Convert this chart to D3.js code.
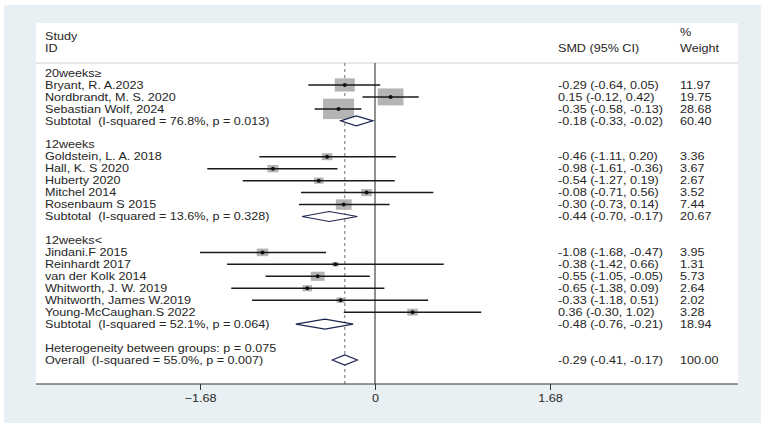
<!DOCTYPE html>
<html>
<head>
<meta charset="utf-8">
<script src="https://cdn.jsdelivr.net/npm/d3@7"></script>
<style>
  body { margin: 0; background: #fff; }
  svg text { font-family: "Liberation Sans", Arial, sans-serif; font-size: 10.5px; fill: #262626; white-space: pre; }
</style>
</head>
<body>
<svg id="chart" width="767" height="427"></svg>
<script>
// studies, grouped
var groups = ['20weeks\u2265', '12weeks', '12weeks<'];
var studyLabels = [
    ['Bryant, R. A.2023', 'Nordbrandt, M. S. 2020', 'Sebastian Wolf, 2024'],
    ['Goldstein, L. A. 2018', 'Hall, K. S 2020', 'Huberty 2020', 'Mitchel 2014', 'Rosenbaum S 2015'],
    ['Jindani.F 2015', 'Reinhardt 2017', 'van der Kolk 2014', 'Whitworth, J. W. 2019', 'Whitworth, James W.2019', 'Young-McCaughan.S 2022']
];
var smd = [
    [-0.29, 0.15, -0.35],
    [-0.46, -0.98, -0.54, -0.08, -0.30],
    [-1.08, -0.38, -0.55, -0.65, -0.33, 0.36]
];
var ciLow = [
    [-0.64, -0.12, -0.58],
    [-1.11, -1.61, -1.27, -0.71, -0.73],
    [-1.68, -1.42, -1.05, -1.38, -1.18, -0.30]
];
var ciHigh = [
    [0.05, 0.42, -0.13],
    [0.20, -0.36, 0.19, 0.56, 0.14],
    [-0.47, 0.66, -0.05, 0.09, 0.51, 1.02]
];
var weights = [
    [11.97, 19.75, 28.68],
    [3.36, 3.67, 2.67, 3.52, 7.44],
    [3.95, 1.31, 5.73, 2.64, 2.02, 3.28]
];
// subtotals per group
var subLabels = ['Subtotal  (I-squared = 76.8%, p = 0.013)', 'Subtotal  (I-squared = 13.6%, p = 0.328)', 'Subtotal  (I-squared = 52.1%, p = 0.064)'];
var subSmd = [-0.18, -0.44, -0.48];
var subLow = [-0.33, -0.70, -0.76];
var subHigh = [-0.02, -0.17, -0.21];
var subWeight = [60.40, 20.67, 18.94];
// overall
var hetLabel = 'Heterogeneity between groups: p = 0.075';
var overallLabel = 'Overall  (I-squared = 55.0%, p = 0.007)';
var overall = { est: -0.29, lo: -0.41, hi: -0.17, w: 100.00 };
var tickValues = [-1.68, 0, 1.68];

function fmt(v) { return v.toFixed(2); }
function ciText(e, l, h) { return fmt(e) + ' (' + fmt(l) + ', ' + fmt(h) + ')'; }

// build row list
var rows = [];
groups.forEach(function(g, gi) {
    rows.push({ type: 'group', label: g });
    studyLabels[gi].forEach(function(s, si) {
        rows.push({ type: 'study', label: s, est: smd[gi][si], lo: ciLow[gi][si], hi: ciHigh[gi][si], w: weights[gi][si] });
    });
    rows.push({ type: 'sub', label: subLabels[gi], est: subSmd[gi], lo: subLow[gi], hi: subHigh[gi], w: subWeight[gi] });
    rows.push({ type: 'blank' });
});
rows.push({ type: 'group', label: hetLabel });
rows.push({ type: 'sub', label: overallLabel, est: overall.est, lo: overall.lo, hi: overall.hi, w: overall.w });

var svg = d3.select('#chart');

// backgrounds
svg.append('rect').attr('x', 4).attr('y', 5).attr('width', 757).attr('height', 418).attr('fill', '#e9f0f3');
svg.append('rect').attr('x', 36).attr('y', 23).attr('width', 702).attr('height', 361).attr('fill', '#ffffff');

var x = d3.scaleLinear().domain([-1.68, 1.68]).range([200, 550]);
var y = d3.scaleLinear().domain([0, rows.length - 1]).range([73, 360]);
var boxW = d3.scaleSqrt().domain([0, 28.68]).range([0, 31]);

var colStudy = 45, colSmd = 558, colWeight = 680;
var headY = 63, axisY = 384;
var stretch = 1.2; // the source picture is stretched sideways

function label(tx, ty, str) {
    svg.append('text')
        .attr('transform', 'translate(' + tx + ',' + ty + ') scale(' + stretch + ',1)')
        .attr('dy', '0.35em')
        .text(str);
}

// header
label(colStudy, 36, 'Study');
label(colStudy, 48, 'ID');
label(colSmd, 48, 'SMD (95% CI)');
label(colWeight, 32, '%');
label(colWeight, 48, 'Weight');
svg.append('line').attr('x1', 36).attr('x2', 738).attr('y1', headY).attr('y2', headY)
    .attr('stroke', '#d0d0d0').attr('stroke-width', 1);

// reference lines
svg.append('line').attr('x1', x(0)).attr('x2', x(0)).attr('y1', headY).attr('y2', axisY)
    .attr('stroke', '#222').attr('stroke-width', 1);
svg.append('line').attr('x1', x(overall.est)).attr('x2', x(overall.est)).attr('y1', headY).attr('y2', axisY)
    .attr('stroke', '#888').attr('stroke-width', 1.2).attr('stroke-dasharray', '3,3');

// row texts
rows.forEach(function(r, i) {
    if (r.type == 'blank') return;
    label(colStudy, y(i), r.label);
    if (r.type == 'study' || r.type == 'sub') {
        label(colSmd, y(i), ciText(r.est, r.lo, r.hi));
        label(colWeight, y(i), fmt(r.w));
    }
});

// study boxes, lines and points
var studyRows = rows.map(function(r, i) { r.i = i; return r; }).filter(function(r) { return r.type == 'study'; });

svg.selectAll('rect.box').data(studyRows).enter().append('rect')
    .attr('class', 'box')
    .attr('x', function(d) { return x(d.est) - boxW(d.w) / 2; })
    .attr('y', function(d) { return y(d.i) - boxW(d.w) * 0.33; })
    .attr('width', function(d) { return boxW(d.w); })
    .attr('height', function(d) { return boxW(d.w) * 0.66; })
    .attr('fill', '#b4b4b4');

svg.selectAll('line.ci').data(studyRows).enter().append('line')
    .attr('class', 'ci')
    .attr('x1', function(d) { return x(d.lo); })
    .attr('x2', function(d) { return x(d.hi); })
    .attr('y1', function(d) { return y(d.i); })
    .attr('y2', function(d) { return y(d.i); })
    .attr('stroke', '#1a1a1a').attr('stroke-width', 1.5);

svg.selectAll('circle.pt').data(studyRows).enter().append('circle')
    .attr('class', 'pt')
    .attr('cx', function(d) { return x(d.est); })
    .attr('cy', function(d) { return y(d.i); })
    .attr('r', 2)
    .attr('fill', '#111');

// diamonds
var subRows = rows.filter(function(r) { return r.type == 'sub'; });
svg.selectAll('path.dia').data(subRows).enter().append('path')
    .attr('class', 'dia')
    .attr('d', function(d) {
        var cy = y(d.i), h = 5;
        return 'M' + x(d.lo) + ',' + cy + 'L' + x(d.est) + ',' + (cy - h) +
            'L' + x(d.hi) + ',' + cy + 'L' + x(d.est) + ',' + (cy + h) + 'Z';
    })
    .attr('fill', '#fff').attr('stroke', '#1c2550').attr('stroke-width', 1.2);

// axis
svg.append('line').attr('x1', 36).attr('x2', 738).attr('y1', axisY).attr('y2', axisY)
    .attr('stroke', '#333').attr('stroke-width', 1.2);
var axis = d3.axisBottom(x).tickValues(tickValues).tickSize(6).tickPadding(5)
    .tickFormat(function(d) { return d == 0 ? '0' : d3.format('.2f')(d); });
var gAxis = svg.append('g').attr('transform', 'translate(0,' + axisY + ')').call(axis);
gAxis.select('.domain').remove();
gAxis.selectAll('.tick line').attr('stroke', '#333');
gAxis.selectAll('.tick text')
    .style('font-family', '"Liberation Sans", Arial, sans-serif').style('font-size', '10.5px')
    .attr('fill', '#262626')
    .attr('transform', 'scale(' + stretch + ',1)');
</script>
</body>
</html>
